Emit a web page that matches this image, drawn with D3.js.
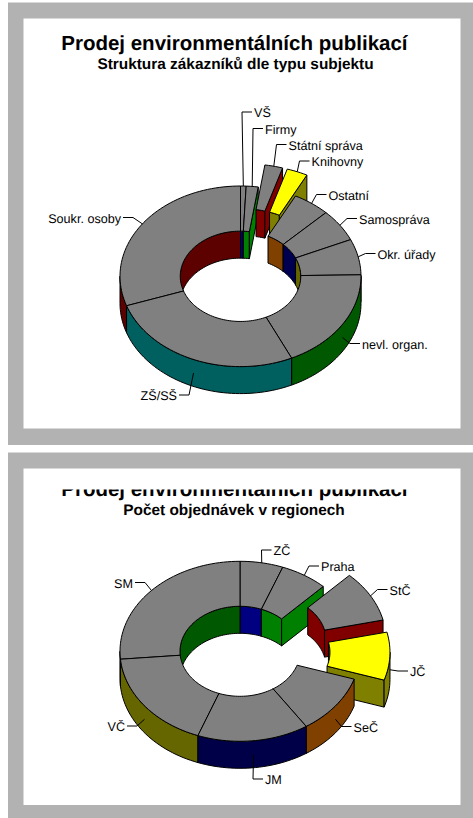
<!DOCTYPE html>
<html>
<head>
<meta charset="utf-8">
<script src="https://cdn.jsdelivr.net/npm/d3@7/dist/d3.min.js"></script>
<style>
  body { margin: 0; background: #fff; }
  svg { display: block; }
  text { font-family: "Liberation Sans", Arial, sans-serif; fill: #000; text-rendering: geometricPrecision; }
</style>
</head>
<body>
<div id="chart"></div>
<script>
// share of each slice in percent
const customerTypes = ["VŠ", "Firmy", "Státní správa", "Knihovny", "Ostatní", "Samospráva", "Okr. úřady", "nevl. organ.", "ZŠ/SŠ", "Soukr. osoby"];
const customerShares = [0.75, 1.6, 2.4, 2.8, 5, 5.8, 6.4, 18.3, 26.7, 30.3];
const customerExploded = ["Státní správa", "Knihovny"];
const customerHighlight = ["Knihovny"];

const regions = ["ZČ", "Praha", "StČ", "JČ", "SeČ", "JM", "VČ", "SM"];
const regionOrders = [5.8, 6.4, 9.2, 8.6, 10.7, 15, 17.9, 26.4];
const regionExploded = ["StČ", "JČ"];
const regionHighlight = ["JČ"];

// wall colours
const customerSides = ["#000080", "#008000", "#800000", "#808000", "#804000", "#000050", "#666600", "#005800", "#006060", "#5c0000"];
const regionSides = ["#000080", "#008000", "#800000", "#808000", "#804000", "#000048", "#666600", "#005800"];

// where each leader line meets its label [x, y, side]
const customerLabelAt = [[252, 112, 1], [263, 128.5, 1], [286.5, 144.5, 1], [309.5, 161, 1], [326.5, 194.5, 1], [357, 218.5, 1], [375.5, 253.5, 1], [360, 343.5, 1], [179, 395, -1], [123, 217.5, -1]];
const regionLabelAt = [[271.5, 550, 1], [319, 566, 1], [387.5, 589.5, 1], [408, 671, 1], [351.5, 726.5, 1], [263, 779, 1], [127, 726, -1], [135, 582.5, -1]];

const width = 473, height = 818;
const topFace = "#808080", highlightFace = "#ffff00";
const holeRatio = 0.5, explodeRatio = 0.25, depth = 27, elbow = 10;

const svg = d3.select("#chart").append("svg")
  .attr("width", width)
  .attr("height", height);

function drawPanel(y0, y1, innerTop, innerBottom) {
  svg.append("rect").attr("x", 8).attr("y", y0).attr("width", width - 8).attr("height", y1 - y0).attr("fill", "#b2b2b2");
  svg.append("rect").attr("x", 23.5).attr("y", innerTop).attr("width", 437).attr("height", innerBottom - innerTop).attr("fill", "#fff");
}

function drawDonut(c) {
  const g = svg.append("g");
  const rx = c.rx, ry = c.ry;
  const rad = d => d * Math.PI / 180;
  const line = d3.line();

  // angle in degrees clockwise from the top, radius as a fraction of the outer edge
  const project = (deg, r, off, down) => [
    c.cx + rx * r * Math.sin(rad(deg)) + off[0],
    c.cy - ry * r * Math.cos(rad(deg)) + off[1] + (down || 0)
  ];
  const sweep = (a, b) => {
    const n = Math.max(2, Math.ceil(Math.abs(b - a) / 2));
    return d3.range(n + 1).map(i => a + (b - a) * i / n);
  };

  const pie = d3.pie().sort(null).value(d => d.value).startAngle(0).endAngle(2 * Math.PI);
  const slices = pie(c.names.map((name, i) => ({ name, value: c.values[i], side: c.sides[i], label: c.labelAt[i] })))
    .map(s => {
      const a = s.startAngle * 180 / Math.PI, b = s.endAngle * 180 / Math.PI, mid = (a + b) / 2;
      const blown = c.exploded.includes(s.data.name) ? explodeRatio : 0;
      return {
        name: s.data.name, side: s.data.side, label: s.data.label, a, b, mid,
        off: [rx * blown * Math.sin(rad(mid)), -ry * blown * Math.cos(rad(mid))]
      };
    });

  const wall = (g, a, b, r, s) => {
    if (b <= a) return;
    const angles = sweep(a, b);
    const pts = angles.map(d => project(d, r, s.off))
      .concat(angles.slice().reverse().map(d => project(d, r, s.off, depth)));
    poly(g, pts, s.side);
  };
  const poly = (g, pts, fill) => {
    g.append("path").attr("d", line(pts) + "Z")
      .attr("fill", fill).attr("stroke", "#000").attr("stroke-width", 1).attr("stroke-linejoin", "round");
  };

  // back slices first, so the front ones paint over them
  slices.slice().sort((p, q) => d3.ascending(-Math.cos(rad(p.mid)), -Math.cos(rad(q.mid)))).forEach(s => {
    const sg = g.append("g");
    // inner wall shows on the far side of the hole
    wall(sg, s.a, Math.min(s.b, 90), holeRatio, s);
    wall(sg, Math.max(s.a, 270), s.b, holeRatio, s);
    // cut faces
    if (s.b < 180) {
      poly(sg, [project(s.b, holeRatio, s.off), project(s.b, 1, s.off), project(s.b, 1, s.off, depth), project(s.b, holeRatio, s.off, depth)], s.side);
    }
    if (s.a > 180) {
      poly(sg, [project(s.a, holeRatio, s.off), project(s.a, 1, s.off), project(s.a, 1, s.off, depth), project(s.a, holeRatio, s.off, depth)], s.side);
    }
    // outer wall on the near side
    wall(sg, Math.max(s.a, 90), Math.min(s.b, 270), 1, s);
    // top face
    const pts = sweep(s.a, s.b).map(d => project(d, 1, s.off))
      .concat(sweep(s.b, s.a).map(d => project(d, holeRatio, s.off)));
    poly(sg, pts, c.highlight.includes(s.name) ? highlightFace : topFace);
  });

  // leaders and labels
  slices.forEach(s => {
    const near = Math.cos(rad(s.mid)) < 0;
    const anchor = project(s.mid, 1, s.off, near ? depth / 2 : 0);
    const [lx, ly, dir] = s.label;
    g.append("path")
      .attr("d", line([anchor, [lx - dir * elbow, ly], [lx, ly]]))
      .attr("fill", "none").attr("stroke", "#000").attr("stroke-width", 1);
    g.append("text")
      .attr("x", lx + dir * 2)
      .attr("y", ly + 1)
      .attr("dy", "0.35em")
      .attr("text-anchor", dir > 0 ? "start" : "end")
      .attr("font-size", c.labelSize)
      .text(s.name);
  });
}

function drawTitle(text, x, y, size) {
  return svg.append("text")
    .attr("x", x).attr("y", y)
    .attr("text-anchor", "middle")
    .attr("font-weight", "bold")
    .attr("font-size", size)
    .text(text);
}

drawPanel(2.5, 445, 18.5, 428.5);
drawPanel(452.5, 818, 468.5, 805);

drawTitle("Prodej environmentálních publikací", 234.4, 50, 20.5);
drawTitle("Struktura zákazníků dle typu subjektu", 235.5, 68.5, 15.4);

// the second heading is cut off at its top in the original
svg.append("clipPath").attr("id", "titleClip")
  .append("rect").attr("x", 24).attr("y", 489.5).attr("width", 436).attr("height", 20);
drawTitle("Prodej environmentálních publikací", 234.4, 496, 20.5).attr("clip-path", "url(#titleClip)");
drawTitle("Počet objednávek v regionech", 234, 515, 15.4);

drawDonut({
  cx: 240.5, cy: 276.3, rx: 120.5, ry: 90.3, labelSize: 12.6,
  names: customerTypes, values: customerShares, sides: customerSides,
  exploded: customerExploded, highlight: customerHighlight, labelAt: customerLabelAt
});
drawDonut({
  cx: 240, cy: 651.3, rx: 120, ry: 90, labelSize: 12.6,
  names: regions, values: regionOrders, sides: regionSides,
  exploded: regionExploded, highlight: regionHighlight, labelAt: regionLabelAt
});
</script>
</body>
</html>
